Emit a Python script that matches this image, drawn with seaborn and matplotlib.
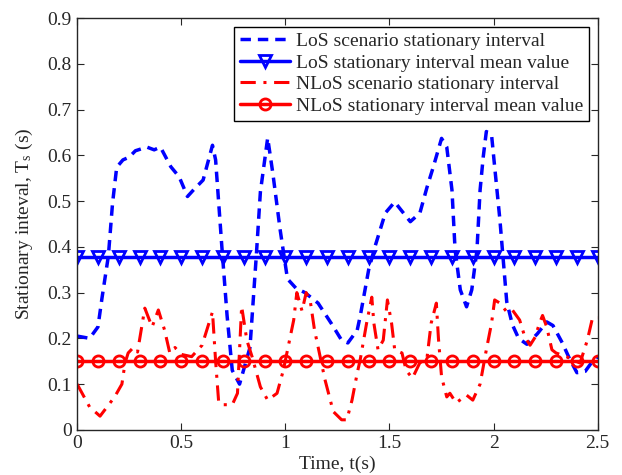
import matplotlib
matplotlib.use("Agg")
import matplotlib.pyplot as plt
import numpy as np
import seaborn as sns

# LoS scenario stationary interval
los_t = [0.0, 0.06, 0.10, 0.12, 0.15, 0.17, 0.19, 0.22, 0.25, 0.28, 0.335, 0.37, 0.40,
         0.45, 0.49, 0.53, 0.56, 0.605, 0.65, 0.665, 0.695, 0.72, 0.745, 0.78, 0.83,
         0.86, 0.88, 0.915, 0.94, 0.975, 1.01, 1.05, 1.094, 1.157, 1.22, 1.27, 1.30,
         1.345, 1.36, 1.40, 1.43, 1.48, 1.525, 1.60, 1.646, 1.68, 1.71, 1.75, 1.775,
         1.80, 1.815, 1.84, 1.87, 1.895, 1.92, 1.935, 1.95, 1.965, 1.99, 2.005, 2.03,
         2.045, 2.063, 2.09, 2.12, 2.16, 2.21, 2.255, 2.285, 2.33, 2.365, 2.40, 2.44,
         2.475, 2.5]
los_v = [0.205, 0.200, 0.225, 0.29, 0.38, 0.495, 0.574, 0.59, 0.596, 0.61, 0.618, 0.612,
         0.618, 0.575, 0.553, 0.51, 0.525, 0.546, 0.622, 0.59, 0.40, 0.25, 0.13, 0.10,
         0.18, 0.378, 0.52, 0.638, 0.56, 0.437, 0.33, 0.31, 0.30, 0.277, 0.233, 0.196,
         0.19, 0.218, 0.25, 0.35, 0.40, 0.474, 0.498, 0.455, 0.474, 0.53, 0.574, 0.637,
         0.618, 0.524, 0.393, 0.306, 0.269, 0.306, 0.393, 0.524, 0.596, 0.652, 0.645,
         0.575, 0.46, 0.378, 0.28, 0.23, 0.20, 0.187, 0.21, 0.236, 0.228, 0.19, 0.155,
         0.125, 0.128, 0.15, 0.16]

# NLoS scenario stationary interval
nlos_t = [0.0, 0.03, 0.06, 0.11, 0.18, 0.215, 0.23, 0.245, 0.27, 0.29, 0.325, 0.36,
          0.39, 0.42, 0.445, 0.47, 0.50, 0.55, 0.60, 0.65, 0.665, 0.68, 0.70, 0.745,
          0.77, 0.79, 0.815, 0.84, 0.88, 0.915, 0.96, 0.99, 1.02, 1.04, 1.055, 1.08,
          1.10, 1.12, 1.14, 1.16, 1.19, 1.23, 1.27, 1.295, 1.32, 1.345, 1.36, 1.39,
          1.415, 1.425, 1.445, 1.47, 1.49, 1.51, 1.525, 1.56, 1.58, 1.61, 1.645, 1.68,
          1.70, 1.725, 1.735, 1.75, 1.775, 1.79, 1.82, 1.87, 1.90, 1.935, 1.965, 1.99,
          2.005, 2.03, 2.063, 2.09, 2.125, 2.15, 2.175, 2.20, 2.22, 2.235, 2.255, 2.28,
          2.30, 2.35, 2.38, 2.415, 2.45, 2.475, 2.5]
nlos_v = [0.10, 0.075, 0.05, 0.03, 0.072, 0.10, 0.146, 0.168, 0.18, 0.17, 0.266, 0.225,
          0.262, 0.218, 0.168, 0.18, 0.165, 0.16, 0.185, 0.258, 0.15, 0.059, 0.055, 0.055,
          0.08, 0.27, 0.196, 0.16, 0.094, 0.065, 0.08, 0.13, 0.196, 0.24, 0.30, 0.26,
          0.30, 0.28, 0.218, 0.175, 0.11, 0.04, 0.022, 0.022, 0.065, 0.124, 0.155, 0.233,
          0.29, 0.233, 0.175, 0.196, 0.284, 0.233, 0.175, 0.168, 0.13, 0.113, 0.146,
          0.157, 0.233, 0.277, 0.2, 0.116, 0.072, 0.08, 0.059, 0.076, 0.065, 0.10, 0.175,
          0.233, 0.284, 0.277, 0.258, 0.262, 0.24, 0.203, 0.185, 0.203, 0.233, 0.25,
          0.225, 0.175, 0.168, 0.16, 0.153, 0.146, 0.196, 0.245, 0.245]

# mean values, marked every 0.1 s
mean_t = np.round(np.arange(0, 2.55, 0.1), 1)
los_mean = 0.378
nlos_mean = 0.15

sns.set_style("ticks")
plt.rcParams.update({'font.family': ['Liberation Serif', 'DejaVu Serif'],
                     'font.size': 14,
                     'mathtext.fontset': 'custom',
                     'mathtext.rm': 'Liberation Serif',
                     'mathtext.it': 'Liberation Serif',
                     'axes.linewidth': 1.0,
                     'xtick.direction': 'in',
                     'ytick.direction': 'in',
                     'xtick.top': True,
                     'ytick.right': True})

fig = plt.figure(figsize=(6.22, 4.75), dpi=100)
ax = fig.add_axes([0.124, 0.095, 0.837, 0.867])

sns.lineplot(x=los_t, y=los_v, ax=ax, color='blue', lw=2.5, linestyle=(0, (3, 2)),
             label='LoS scenario stationary interval')
sns.lineplot(x=mean_t, y=np.full(len(mean_t), los_mean), ax=ax, color='blue', lw=2.5,
             marker='v', markersize=9, markerfacecolor='none', markeredgecolor='blue',
             markeredgewidth=2, label='LoS stationary interval mean value')
sns.lineplot(x=nlos_t, y=nlos_v, ax=ax, color='red', lw=2.2, linestyle=(0, (5, 2.5, 1, 2.5)),
             label='NLoS scenario stationary interval')
sns.lineplot(x=mean_t, y=np.full(len(mean_t), nlos_mean), ax=ax, color='red', lw=2.5,
             marker='o', markersize=8, markerfacecolor='none', markeredgecolor='red',
             markeredgewidth=2, label='NLoS stationary interval mean value')

ax.set_xlim(0, 2.5)
ax.set_ylim(0, 0.9)
ax.set_xticks([0, 0.5, 1, 1.5, 2, 2.5])
ax.set_xticklabels(['0', '0.5', '1', '1.5', '2', '2.5'])
ax.set_yticks(np.round(np.arange(0, 0.95, 0.1), 1))
ax.set_yticklabels(['0', '0.1', '0.2', '0.3', '0.4', '0.5', '0.6', '0.7', '0.8', '0.9'])
ax.tick_params(length=5, width=0.8, labelsize=14, pad=4)
ax.set_xlabel('Time, t(s)', labelpad=2)
ax.set_ylabel(r'Stationary inteval, T$_{\mathrm{s}}$ (s)', labelpad=9)

leg = ax.legend(loc='upper right', fontsize=14, frameon=True, fancybox=False,
                edgecolor='black', framealpha=1, handlelength=2.6, handletextpad=0.3,
                borderpad=0.3, labelspacing=0.2, borderaxespad=0.45)
leg.get_frame().set_linewidth(1.0)

plt.savefig('out.png', dpi=100)
